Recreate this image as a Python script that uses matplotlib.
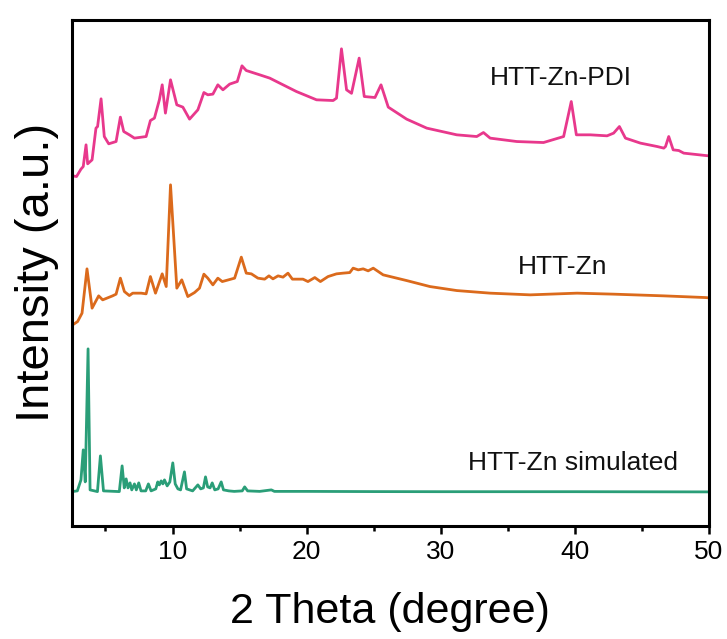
import matplotlib
matplotlib.use("Agg")
import matplotlib.pyplot as plt
from matplotlib.ticker import MultipleLocator

plt.rcParams['font.family'] = ['Liberation Sans', 'DejaVu Sans']

# ---- data (2θ in degree, stacked intensity in a.u.) ----
sim_theta = [2.5, 2.9, 3.17, 3.34, 3.49, 3.70, 3.85, 4.4, 4.62, 4.85, 6.03, 6.24, 6.40, 6.54, 6.68,
             6.83, 6.96, 7.16, 7.3, 7.48, 7.65, 8.0, 8.2, 8.4, 8.75, 8.9, 9.02, 9.15, 9.28, 9.4, 9.6,
             9.8, 10.02, 10.2, 10.4, 10.6, 10.89, 11.05, 11.5, 11.89, 12.1, 12.3, 12.46, 12.62, 12.8,
             12.96, 13.15, 13.4, 13.63, 13.8, 14.2, 14.6, 15.2, 15.38, 15.6, 16.5, 17.37, 17.6, 20,
             25, 30, 40, 50]
sim_int = [34.3, 35, 46, 76, 44, 177, 36, 34.3, 70, 35, 34.3, 60, 38, 47, 38,
           43, 36, 42, 36, 43, 35, 35, 42, 35, 37, 44, 41, 45, 42, 46, 40,
           44, 63, 42, 37, 36, 54, 37, 35, 41, 37, 38, 49, 39, 38,
           43, 36, 37, 44, 36, 35, 34.5, 35, 39, 35, 34.5, 36, 34.5, 34.5,
           34.3, 34.2, 34.2, 34]

zn_theta = [2.55, 2.92, 3.25, 3.62, 4.0, 4.49, 4.79, 5.53, 5.79, 6.11, 6.41, 6.78, 7.03, 7.66, 8.03,
            8.35, 8.73, 9.23, 9.53, 9.85, 10.32, 10.69, 11.14, 11.64, 12.01, 12.34, 12.63, 13.01,
            13.38, 13.71, 14.63, 15.13, 15.5, 15.88, 16.37, 16.87, 17.19, 17.49, 17.87, 18.24, 18.61,
            18.94, 19.73, 20.1, 20.61, 21.03, 21.6, 22.23, 22.72, 23.22, 23.47, 23.85, 24.22, 24.59,
            24.97, 25.71, 27.46, 29.2, 31.2, 33.69, 36.68, 40.17, 42.9, 46.64, 49.76, 50]
zn_int = [201, 204.3, 212.7, 257, 217.7, 230, 226, 230, 231.7, 247.7, 234.3, 230.3, 232.7, 232.7, 232,
          249.3, 232.7, 252, 239.3, 341, 237.7, 246, 229.3, 233.3, 237.7, 251.7, 247.7, 241,
          247.7, 244.3, 247.7, 268.7, 252.7, 252, 247.7, 246.7, 250, 247, 250, 248.7, 252.7,
          246.7, 246.7, 244.3, 248.3, 244.3, 249.3, 252, 252.7, 253.3, 257.7, 256, 257, 255,
          257.7, 251, 245.3, 239.3, 235.3, 232.7, 231, 232.7, 231.7, 230, 228.3, 228]

pdi_theta = [2.55, 2.84, 3.17, 3.34, 3.55, 3.67, 4.0, 4.29, 4.41, 4.67, 4.91, 5.24, 5.79, 6.11, 6.36,
             6.78, 7.16, 8.03, 8.35, 8.65, 9.02, 9.23, 9.47, 9.85, 10.32, 10.77, 11.27, 11.89, 12.34,
             12.63, 13.01, 13.38, 13.76, 14.26, 14.83, 15.18, 15.5, 16.5, 17.25, 17.99, 19.24, 20.74,
             21.98, 22.23, 22.6, 22.98, 23.35, 23.92, 24.3, 25.1, 25.55, 26.09, 27.46, 28.96, 31.2,
             32.69, 33.19, 33.69, 35.68, 37.67, 39.17, 39.74, 40.12, 41.16, 42.41, 42.9, 43.33, 43.78,
             44.9, 46.15, 46.64, 46.77, 47.01, 47.34, 47.76, 48.13, 49.76, 50]
pdi_int = [350, 349.3, 356.7, 359.3, 381, 362, 366, 397.7, 399.3, 427, 389.3, 382, 384.3, 408.7, 394.3,
           391, 387.7, 389.3, 405.3, 407.7, 426, 441, 412.7, 446, 421, 418.7, 406.7, 416, 433.3,
           431, 431.7, 441, 436, 441.7, 444.3, 460, 455.3, 451, 447.7, 442.7, 434.3, 426,
           425.3, 427.7, 477, 436, 432.5, 467.7, 429.3, 428.3, 441, 418.7, 406.7, 397.7, 391,
           389.3, 393.3, 387.7, 384.3, 383.3, 389.3, 424.3, 391, 391, 390, 392.7, 399.3, 387.7,
           382.7, 379.3, 377.7, 379.3, 389.3, 376, 375.3, 372.7, 370.3, 370]

labels = ["HTT-Zn-PDI", "HTT-Zn", "HTT-Zn simulated"]
label_theta = [39.0, 39.07, 39.9]
label_int = [448, 258.5, 63]
colors = ["#E8388C", "#DB6A1C", "#2A9E78"]

fig = plt.figure(figsize=(7.27, 6.39), dpi=100)
ax = fig.add_axes([0.099, 0.177, 0.876, 0.792])

ax.plot(pdi_theta, pdi_int, color=colors[0], lw=2.0)
ax.plot(zn_theta, zn_int, color=colors[1], lw=2.0)
ax.plot(sim_theta, sim_int, color=colors[2], lw=2.0)

for t, x, y, c in zip(labels, label_theta, label_int, colors):
    ax.text(x, y, t, ha='center', va='center', fontsize=19, color='#111111')

ax.set_xlim(2.5, 50)
ax.set_ylim(0, 506)
ax.xaxis.set_major_locator(MultipleLocator(10))
ax.xaxis.set_minor_locator(MultipleLocator(5))
ax.set_yticks([])
for s in ax.spines.values():
    s.set_linewidth(2.2)
ax.tick_params(axis='x', which='major', direction='out', length=6, width=1.8, labelsize=19, pad=4)
ax.tick_params(axis='x', which='minor', direction='out', length=3.5, width=1.8)
ax.set_xlabel("2 Theta (degree)", fontsize=31, labelpad=20)
ax.set_ylabel("Intensity (a.u.)", fontsize=34, labelpad=9)

fig.savefig("out.png", dpi=100)
